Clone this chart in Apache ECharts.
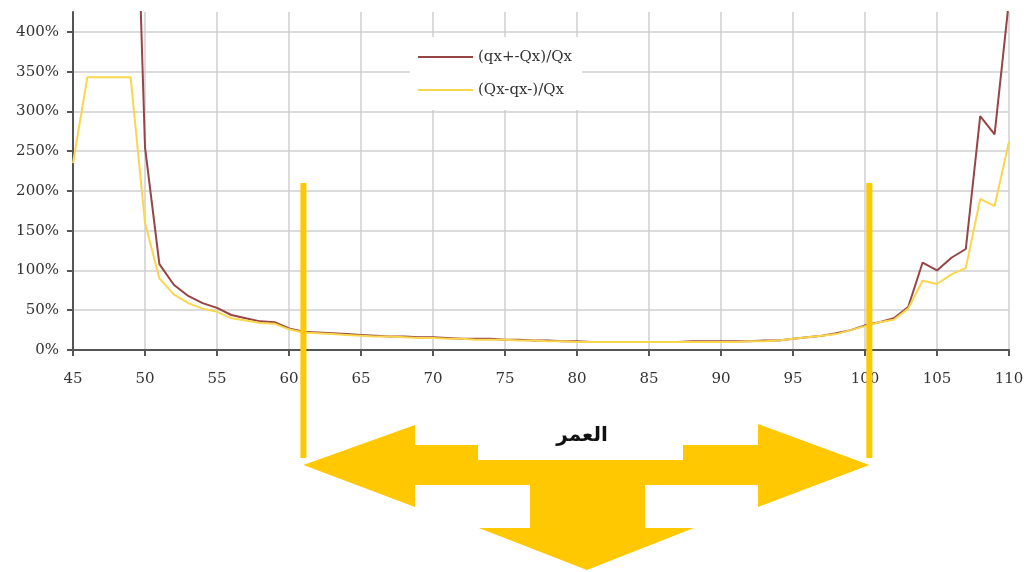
<!DOCTYPE html>
<html>
<head>
<meta charset="utf-8">
<script src="https://cdn.jsdelivr.net/npm/echarts@6/dist/echarts.min.js"></script>
<style>
  html, body { margin: 0; padding: 0; background: #fff; }
  #chart { width: 1029px; height: 572px; }
</style>
</head>
<body>
<div id="chart"></div>
<script>
// Ages on the horizontal axis (one point per year)
const ages = [];
for (let a = 45; a <= 110; a++) ages.push(a);

// (qx+-Qx)/Qx in percent, ages 45..110 (no value before 49)
const upperRatio = [
  null, null, null, null, 840, 255, 108, 82, 68, 59,
  53, 44, 40, 36, 35, 27, 23, 22, 21, 20,
  19, 18, 17, 17, 16, 16, 15, 14, 14, 14,
  13, 13, 12, 12, 11, 11, 10, 10, 10, 10,
  10, 10, 10, 11, 11, 11, 11, 11, 12, 12,
  14, 16, 18, 21, 25, 31, 35, 40, 54, 110,
  100, 116, 127, 294, 271, 440
];

// (Qx-qx-)/Qx in percent, ages 45..110
const lowerRatio = [
  235, 343, 343, 343, 343, 160, 90, 70, 59, 52,
  48, 40, 37, 34, 33, 26, 22, 21, 20, 19,
  18, 17, 17, 16, 15, 15, 14, 14, 13, 13,
  13, 12, 12, 11, 11, 10, 10, 10, 10, 10,
  10, 10, 10, 10, 10, 10, 10, 11, 11, 12,
  14, 16, 18, 20, 25, 30, 35, 38, 52, 87,
  83, 95, 103, 190, 181, 262
];

const seriesNames = ['(qx+-Qx)/Qx', '(Qx-qx-)/Qx'];
const ageLabel = 'العمر';
// Ages bounding the highlighted range
const rangeStart = 61;
const rangeEnd = 100.3;

const toPairs = vals => ages.map((a, i) => [a, vals[i]]);

const chart = echarts.init(document.getElementById('chart'), null, { renderer: 'canvas' });

const labelFont = { fontFamily: 'DejaVu Serif', fontSize: 15, color: '#333' };

chart.setOption({
  animation: false,
  backgroundColor: '#fff',
  grid: { left: 73, right: 20, top: 12, bottom: 222, containLabel: false },
  legend: {
    orient: 'vertical',
    left: 410,
    top: 37,
    padding: [10, 10, 10, 8],
    itemGap: 13,
    itemWidth: 55,
    itemHeight: 2,
    icon: 'rect',
    backgroundColor: '#fff',
    textStyle: { fontFamily: 'DejaVu Serif', fontSize: 15, color: '#333', lineHeight: 20 },
    data: seriesNames
  },
  xAxis: {
    type: 'value',
    min: 45,
    max: 110,
    interval: 5,
    axisLine: { show: true, onZero: false, lineStyle: { color: '#555', width: 2 } },
    axisTick: { show: true, length: 6, lineStyle: { color: '#555', width: 2 } },
    axisLabel: Object.assign({ margin: 22 }, labelFont),
    splitLine: { show: true, lineStyle: { color: '#cfcfcf', width: 1.5 } }
  },
  yAxis: {
    type: 'value',
    min: 0,
    max: 425,
    interval: 50,
    axisLine: { show: true, lineStyle: { color: '#555', width: 2 } },
    axisTick: { show: true, length: 6, lineStyle: { color: '#555', width: 2 } },
    axisLabel: Object.assign({
      margin: 14,
      showMaxLabel: false,
      formatter: v => v + '%'
    }, labelFont),
    splitLine: { show: true, showMaxLine: false, lineStyle: { color: '#cfcfcf', width: 1.5 } }
  },
  series: [
    {
      name: seriesNames[0],
      type: 'line',
      data: toPairs(upperRatio),
      symbol: 'none',
      connectNulls: false,
      lineStyle: { color: '#974444', width: 2 },
      itemStyle: { color: '#974444' },
      z: 2
    },
    {
      name: seriesNames[1],
      type: 'line',
      data: toPairs(lowerRatio),
      symbol: 'none',
      lineStyle: { color: '#F8D64E', width: 2 },
      itemStyle: { color: '#F8D64E' },
      z: 3
    }
  ]
});

// Highlighted age range: two vertical markers joined by a double arrow with a down arrow
const xL = chart.convertToPixel({ xAxisIndex: 0 }, rangeStart);
const xR = chart.convertToPixel({ xAxisIndex: 0 }, rangeEnd);
const gold = '#FFC800';
const mid = (xL + xR) / 2 + 0.5;

const arrowPts = [
  [xL, 465],
  [415, 425], [415, 445], [478, 445], [478, 460], [683, 460], [683, 445],
  [758, 445], [758, 424],
  [xR, 465],
  [758, 507], [758, 485],
  [645, 485], [645, 528], [mid + 107, 528],
  [mid, 570],
  [mid - 108, 528], [530, 528], [530, 485],
  [415, 485], [415, 507]
];

chart.setOption({
  graphic: [
    { type: 'rect', z: 100, shape: { x: xL - 3, y: 183, width: 6, height: 275 }, style: { fill: gold } },
    { type: 'rect', z: 100, shape: { x: xR - 3, y: 183, width: 6, height: 275 }, style: { fill: gold } },
    { type: 'polygon', z: 100, shape: { points: arrowPts }, style: { fill: gold } },
    {
      type: 'text', z: 101,
      x: 582, y: 436,
      style: {
        text: ageLabel,
        fontFamily: 'DejaVu Sans',
        fontWeight: 'bold',
        fontSize: 20,
        fill: '#111',
        align: 'center',
        verticalAlign: 'middle'
      }
    }
  ]
});
</script>
</body>
</html>
